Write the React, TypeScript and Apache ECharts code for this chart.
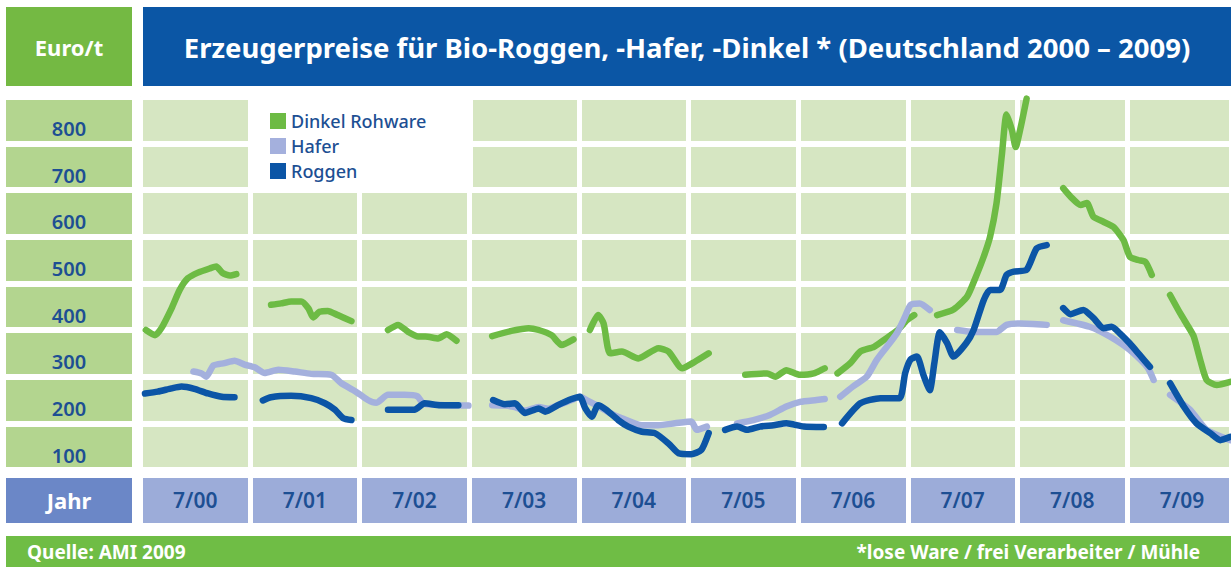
import React, { useEffect, useRef } from 'react';
import * as echarts from 'echarts';

// x values are months since July 2000 (7/00 = 0); y values in Euro/t
const xTickLabels = ['7/00', '7/01', '7/02', '7/03', '7/04', '7/05', '7/06', '7/07', '7/08', '7/09'];
const xLabelMonths = [6, 18, 30, 42, 54, 66, 78, 90, 102, 114];
const yTickValues = [100, 200, 300, 400, 500, 600, 700, 800];
const seriesNames = ['Dinkel Rohware', 'Hafer', 'Roggen'];

const dinkelSegments: [number, number][][] = [
  [[0.6, 368], [1.6, 357], [2.3, 372], [3.4, 414], [4.3, 454], [5.2, 479], [6.3, 491], [7.6, 500], [8.3, 504], [9.0, 490], [9.8, 485], [10.5, 488]],
  [[14.3, 422], [15.4, 425], [16.5, 429], [17.6, 429], [18.4, 414], [18.9, 395], [19.6, 407], [20.5, 409], [21.6, 400], [23.1, 387]],
  [[27.1, 368], [28.2, 379], [29.3, 364], [30.4, 354], [31.2, 354], [32.6, 350], [33.5, 359], [34.6, 345]],
  [[38.5, 355], [40.6, 366], [42.5, 372], [43.6, 368], [45.0, 357], [46.1, 336], [47.4, 348]],
  [[49.2, 368], [50.1, 400], [50.7, 382], [51.4, 318], [52.7, 322], [54.5, 307], [56.7, 329], [57.8, 322], [59.3, 286], [60.7, 300], [62.2, 318]],
  [[66.2, 272], [68.6, 275], [69.5, 268], [70.7, 282], [72.2, 272], [73.7, 275], [74.9, 286]],
  [[76.3, 275], [77.7, 297], [78.8, 322], [80.3, 332], [81.4, 347], [82.9, 368], [83.9, 389], [84.7, 400]],
  [[87.2, 400], [89.0, 412], [90.5, 440], [91.4, 480], [92.3, 525], [93.0, 568], [93.7, 639], [94.3, 745], [94.8, 830], [95.4, 796], [95.8, 760], [96.3, 798], [97.0, 864]],
  [[101.0, 672], [101.8, 654], [102.9, 636], [103.6, 640], [104.3, 611], [105.4, 600], [106.5, 589], [107.6, 561], [108.3, 525], [109.2, 518], [110.0, 514], [110.7, 486]],
  [[112.7, 443], [113.8, 404], [114.7, 375], [115.3, 354], [116.0, 304], [116.7, 261], [117.8, 250], [119.3, 257]],
];

const haferSegments: [number, number][][] = [
  [[5.8, 279], [6.7, 275], [7.2, 268], [8.0, 292], [9.2, 297], [10.3, 302], [11.4, 294], [12.5, 288], [13.6, 276], [15.1, 283], [16.9, 279], [18.7, 274], [20.9, 272], [22.0, 254], [23.5, 237], [24.9, 218], [25.8, 212], [27.1, 229], [28.9, 229], [30.3, 226], [31.0, 210], [33.3, 207], [35.9, 206]],
  [[38.5, 207], [39.9, 206], [41.0, 203], [42.1, 195], [43.6, 203], [44.6, 199], [45.7, 207], [47.2, 218], [48.1, 225], [49.0, 216], [50.1, 205], [51.4, 190], [52.7, 179], [54.9, 164], [56.7, 164], [58.5, 168], [60.3, 172], [60.9, 154], [62.0, 161]],
  [[65.3, 168], [67.1, 175], [68.9, 186], [70.7, 204], [72.2, 214], [74.0, 218], [74.9, 220]],
  [[76.6, 225], [78.0, 247], [79.5, 268], [80.6, 304], [81.7, 332], [82.8, 361], [83.7, 397], [84.3, 422], [85.3, 425], [86.4, 411]],
  [[89.4, 368], [91.2, 364], [93.7, 364], [94.8, 379], [96.3, 382], [99.2, 379]],
  [[101.0, 389], [103.9, 375], [106.1, 354], [108.3, 325], [110.2, 289], [110.9, 261]],
  [[112.7, 229], [114.9, 197], [116.7, 154], [119.3, 132]],
];

const roggenSegments: [number, number][][] = [
  [[0.5, 232], [1.9, 236], [3.4, 243], [4.5, 247], [5.9, 242], [7.4, 232], [8.9, 225], [10.3, 224]],
  [[13.4, 217], [14.3, 224], [16.5, 227], [18.7, 222], [20.2, 211], [21.3, 197], [22.2, 179], [23.1, 175]],
  [[27.1, 197], [30.0, 197], [31.1, 211], [32.8, 207], [34.8, 207]],
  [[38.6, 218], [39.9, 209], [41.0, 211], [42.1, 190], [43.6, 200], [44.3, 193], [45.7, 207], [47.2, 220], [48.1, 225], [48.7, 200], [49.4, 182], [50.1, 207], [51.0, 197], [52.3, 175], [53.4, 161], [54.9, 150], [56.3, 147], [57.8, 125], [58.9, 104], [60.3, 102], [61.4, 111], [62.2, 147]],
  [[64.0, 154], [65.3, 161], [66.4, 154], [67.8, 161], [69.3, 164], [70.7, 168], [72.6, 161], [74.8, 160]],
  [[76.8, 168], [78.8, 211], [81.0, 222], [83.1, 222], [83.7, 275], [84.3, 305], [85.0, 311], [85.7, 272], [86.4, 239], [86.9, 297], [87.5, 363], [88.3, 340], [89.0, 311], [90.4, 340], [91.2, 368], [92.3, 432], [93.0, 454], [94.1, 454], [94.8, 486], [95.6, 493], [97.0, 497], [98.1, 543], [99.2, 550]],
  [[101.0, 415], [101.8, 402], [103.2, 411], [104.3, 394], [105.4, 372], [106.3, 375], [107.2, 361], [108.3, 339], [109.4, 314], [110.5, 289]],
  [[112.7, 254], [114.2, 204], [115.6, 168], [117.1, 147], [118.2, 132], [119.3, 139]],
];

const COLORS = { dinkel: '#6dbb44', hafer: '#a4b0dd', roggen: '#0b55a6' };
const TEXT_BLUE = '#1d4f93';
const FONT = "'Noto Sans', 'Open Sans', sans-serif";
const X_MAX = 119.37;

function makeSeries(name: string, color: string, segs: [number, number][][], z: number) {
  return segs.map((seg) => ({
    type: 'line',
    name,
    data: seg,
    xAxisIndex: 0,
    yAxisIndex: 0,
    symbol: 'none',
    showSymbol: false,
    smooth: 0.2,
    clip: true,
    silent: true,
    z,
    lineStyle: { color, width: 6.5, cap: 'round', join: 'round' },
    itemStyle: { color },
  }));
}

export default function App() {
  const ref = useRef<HTMLDivElement>(null);
  useEffect(() => {
    if (!ref.current) return;
    const chart = echarts.init(ref.current, undefined, { renderer: 'svg' });
    const hiddenParts = {
      axisLine: { show: false },
      axisTick: { show: false },
      axisLabel: { show: false },
    };
    const option: any = {
      animation: false,
      backgroundColor: '#ffffff',
      textStyle: { fontFamily: FONT },
      grid: [
        { left: 140.4, top: 96.7, width: 1090.6, height: 373.3, show: true, backgroundColor: '#d6e6c2', borderWidth: 0, containLabel: false, outerBoundsMode: 'none' },
        { left: 6, top: 96.7, width: 126, height: 373.3, show: true, backgroundColor: '#b3d58f', borderWidth: 0, containLabel: false, outerBoundsMode: 'none' },
        { left: 140.4, top: 478, width: 1090.6, height: 45, show: true, backgroundColor: '#9cacd9', borderWidth: 0, containLabel: false, outerBoundsMode: 'none' },
      ],
      xAxis: [
        {
          gridIndex: 0, type: 'value', min: 0, max: X_MAX, interval: 12,
          axisLine: { show: false }, axisTick: { show: false },
          splitLine: { show: true, lineStyle: { color: '#ffffff', width: 5 } },
          axisLabel: {
            customValues: xLabelMonths,
            formatter: (v: number) => xTickLabels[Math.round((v - 6) / 12)] ?? '',
            margin: 30, verticalAlign: 'middle', color: TEXT_BLUE, fontSize: 21, fontWeight: 600, fontFamily: FONT,
          },
        },
        { gridIndex: 1, type: 'value', min: 0, max: 1, show: false },
        {
          gridIndex: 2, type: 'value', min: 0, max: X_MAX, interval: 12, ...hiddenParts,
          splitLine: { show: true, lineStyle: { color: '#ffffff', width: 5 } },
        },
      ],
      yAxis: [
        {
          gridIndex: 0, type: 'value', min: 68, max: 868,
          axisLine: { show: false }, axisTick: { show: false }, splitLine: { show: false },
          axisLabel: {
            customValues: yTickValues, align: 'center', margin: 71.4,
            color: TEXT_BLUE, fontSize: 20, fontWeight: 600, fontFamily: FONT,
          },
        },
        {
          gridIndex: 0, type: 'value', min: 0, max: 8, interval: 1, position: 'right', ...hiddenParts,
          splitLine: { show: true, lineStyle: { color: '#ffffff', width: 6 } },
        },
        {
          gridIndex: 1, type: 'value', min: 0, max: 8, interval: 1, ...hiddenParts,
          splitLine: { show: true, lineStyle: { color: '#ffffff', width: 6 } },
        },
        { gridIndex: 2, type: 'value', min: 0, max: 1, show: false },
      ],
      legend: {
        left: 248, top: 97, orient: 'vertical', icon: 'rect',
        itemWidth: 16, itemHeight: 16, itemGap: 7, padding: [15, 10, 10, 22],
        data: seriesNames,
        itemStyle: { borderWidth: 0 },
        textStyle: { color: TEXT_BLUE, fontSize: 18, fontWeight: 500, fontFamily: FONT, lineHeight: 18 },
        selectedMode: false,
      },
      graphic: {
        elements: [
          { type: 'rect', shape: { x: 248, y: 96, width: 225, height: 95 }, style: { fill: '#ffffff' }, z: 3, silent: true },
          { type: 'rect', shape: { x: 6, y: 7, width: 126, height: 79 }, style: { fill: '#74b943' }, silent: true },
          { type: 'text', x: 69, y: 47, style: { text: 'Euro/t', fill: '#ffffff', font: `bold 22px ${FONT}`, align: 'center', verticalAlign: 'middle' }, silent: true },
          { type: 'rect', shape: { x: 143, y: 7, width: 1088, height: 79 }, style: { fill: '#0b56a5' }, silent: true },
          { type: 'text', x: 687, y: 47, style: { text: 'Erzeugerpreise für Bio-Roggen, -Hafer, -Dinkel * (Deutschland 2000 – 2009)', fill: '#ffffff', font: `bold 27.5px ${FONT}`, align: 'center', verticalAlign: 'middle' }, silent: true },
          { type: 'rect', shape: { x: 6, y: 478, width: 126, height: 45 }, style: { fill: '#6b87c7' }, silent: true },
          { type: 'text', x: 69, y: 500, style: { text: 'Jahr', fill: '#ffffff', font: `bold 22px ${FONT}`, align: 'center', verticalAlign: 'middle' }, silent: true },
          { type: 'rect', shape: { x: 6, y: 536, width: 1225, height: 31 }, style: { fill: '#6fbd45' }, silent: true },
          { type: 'text', x: 27, y: 551.5, style: { text: 'Quelle: AMI 2009', fill: '#ffffff', font: `bold 19px ${FONT}`, align: 'left', verticalAlign: 'middle' }, silent: true },
          { type: 'text', x: 1200, y: 551.5, style: { text: '*lose Ware / frei Verarbeiter / Mühle', fill: '#ffffff', font: `bold 19px ${FONT}`, align: 'right', verticalAlign: 'middle' }, silent: true },
        ],
      },
      series: [
        ...makeSeries(seriesNames[0], COLORS.dinkel, dinkelSegments, 2),
        ...makeSeries(seriesNames[1], COLORS.hafer, haferSegments, 3),
        ...makeSeries(seriesNames[2], COLORS.roggen, roggenSegments, 4),
      ],
    };
    chart.setOption(option);
    return () => chart.dispose();
  }, []);
  return <div ref={ref} style={{ position: 'fixed', left: 0, top: 0, width: 1231, height: 573 }} />;
}
